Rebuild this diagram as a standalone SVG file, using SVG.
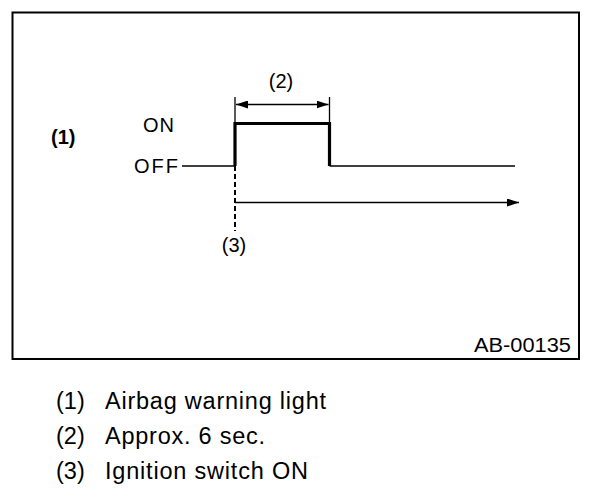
<svg xmlns="http://www.w3.org/2000/svg" width="608" height="498" viewBox="0 0 608 498">
<style>
text{font-family:"Liberation Sans",Arial,sans-serif;fill:#000}
.lbl{font-size:20px}
.leg{font-size:23.5px}
.thin{stroke:#000;stroke-width:1.3;fill:none}
.thick{stroke:#000;stroke-width:3.2;fill:none}
</style>
<defs>
<marker id="ah" viewBox="0 0 12 8" refX="12" refY="4" markerWidth="12" markerHeight="8" markerUnits="userSpaceOnUse" orient="auto-start-reverse">
<path d="M0,0 L12,4 L0,8 Z" fill="#000"/>
</marker>
</defs>
<rect x="12.5" y="12.5" width="566.5" height="346.5" fill="#fff" stroke="#000" stroke-width="2"/>
<g id="signal">
<path class="thin" d="M182,166 H235"/>
<path class="thick" d="M235,166 V123.5 H329.5 V166"/>
<path class="thin" d="M329.5,166 H515"/>
</g>
<g id="connectors">
<line x1="235" y1="166" x2="235" y2="231" stroke="#000" stroke-width="2" stroke-dasharray="5,3"/>
<line class="thin" x1="235" y1="202.5" x2="519" y2="202.5" marker-end="url(#ah)"/>
<line class="thin" x1="235" y1="97" x2="235" y2="123"/>
<line class="thin" x1="329.5" y1="97" x2="329.5" y2="123"/>
<line class="thin" x1="236" y1="104.5" x2="328.5" y2="104.5" marker-start="url(#ah)" marker-end="url(#ah)"/>
</g>
<g id="labels">
<text class="lbl" x="51" y="144" font-weight="bold" font-size="19">(1)</text>
<text class="lbl" x="143" y="131.5" textLength="31" lengthAdjust="spacing">ON</text>
<text class="lbl" x="134" y="172.5" textLength="44" lengthAdjust="spacing">OFF</text>
<text class="lbl" x="281" y="88" text-anchor="middle">(2)</text>
<text class="lbl" x="234" y="252" text-anchor="middle">(3)</text>
<text class="lbl" x="474" y="352" font-size="22" textLength="97" lengthAdjust="spacingAndGlyphs">AB-00135</text>
</g>
<g id="legend">
<text class="leg" x="56" y="409">(1)</text>
<text class="leg" x="105" y="409" textLength="221" lengthAdjust="spacing">Airbag warning light</text>
<text class="leg" x="56" y="444">(2)</text>
<text class="leg" x="105" y="444" textLength="160" lengthAdjust="spacing">Approx. 6 sec.</text>
<text class="leg" x="56" y="479">(3)</text>
<text class="leg" x="105" y="479" textLength="203" lengthAdjust="spacing">Ignition switch ON</text>
</g>
</svg>
